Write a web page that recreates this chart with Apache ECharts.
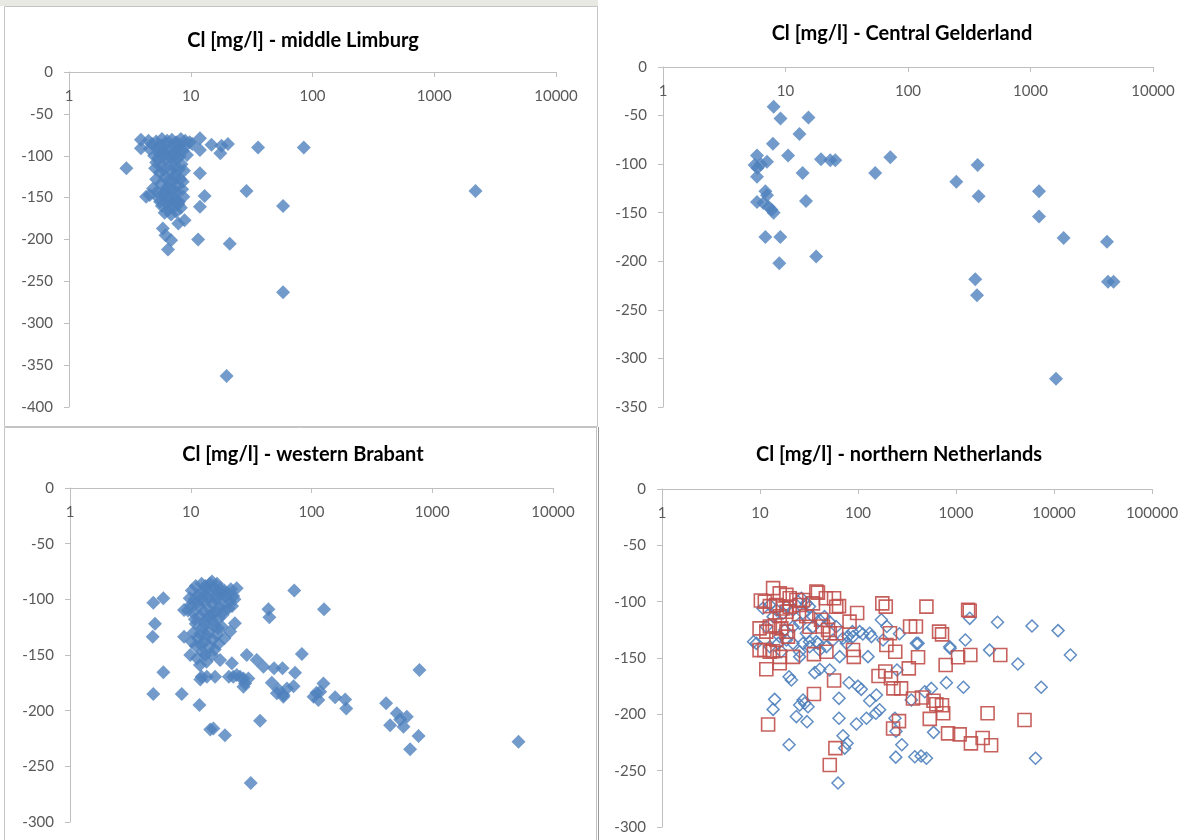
<!DOCTYPE html>
<html>
<head>
<meta charset="utf-8">
<script src="https://cdn.jsdelivr.net/npm/echarts@6/dist/echarts.min.js"></script>
<style>
  html, body { margin: 0; padding: 0; background: #fff; }
  #chart { width: 1186px; height: 840px; }
</style>
</head>
<body>
<div id="chart"></div>
<script>
// panel titles
const titles = [
  'Cl [mg/l] - middle Limburg',
  'Cl [mg/l] - Central Gelderland',
  'Cl [mg/l] - western Brabant',
  'Cl [mg/l] - northern Netherlands'
];

// axis ranges per panel
const xMax = [10000, 10000, 10000, 100000];
const yMin = [-400, -350, -300, -300];

// [Cl mg/l, depth]
const limburg = [
  [2.96, -115], [3.9, -81], [4.5, -82], [5.2, -83], [5.8, -80], [6.4, -82], [7.0, -81], [7.6, -84],
  [8.3, -80], [9.0, -82], [9.8, -84], [10.3, -86], [3.9, -91], [4.6, -92], [5.3, -90],
  [11.9, -79], [11.9, -93], [14.8, -87], [17.9, -88], [17.5, -97], [20.2, -86], [35.7, -90],
  [84.8, -90], [2183, -142],
  [5.0, -100], [5.5, -97], [6.0, -95], [6.6, -93], [7.2, -96], [7.9, -92], [8.6, -94], [9.3, -99],
  [5.2, -108], [5.8, -112], [6.3, -105], [7.0, -109], [7.7, -103], [8.4, -110],
  [5.6, -120], [6.2, -125], [6.8, -118], [7.5, -122], [8.2, -128], [8.8, -118],
  [5.7, -133], [6.4, -138], [7.1, -131], [7.8, -136], [8.5, -140],
  [5.4, -150], [6.0, -145], [6.7, -152], [7.3, -147], [8.0, -155], [8.7, -149],
  [5.8, -160], [6.5, -165], [7.2, -162], [7.9, -158], [6.1, -168], [6.9, -170], [7.6, -167],
  [4.8, -86], [5.6, -88], [6.3, -87], [7.3, -88], [8.0, -87], [8.9, -89], [5.4, -103], [6.1, -100],
  [6.9, -102], [7.5, -99], [8.1, -101], [5.1, -115], [6.0, -117], [7.3, -114], [8.0, -116],
  [6.5, -130], [7.4, -126], [8.6, -131], [5.2, -128], [6.2, -142], [7.0, -140], [7.6, -143],
  [5.6, -155], [6.3, -157], [7.0, -157], [7.5, -153], [6.3, -150], [8.3, -162],
  [4.3, -149], [4.9, -139], [4.6, -147], [5.3, -143],
  [11.9, -121], [13, -148], [11.9, -161], [28.7, -142], [57.3, -160], [57.3, -263], [19.7, -363],
  [20.9, -205], [11.5, -200], [6.5, -212], [5.9, -187], [6.9, -201], [6.2, -195], [7.9, -181], [8.9, -177]
];

const gelderland = [
  [8.0, -41], [9.1, -53], [15.4, -52], [13, -69], [7.9, -79], [10.5, -91], [5.85, -91],
  [5.6, -101], [5.9, -104], [6.3, -100], [7.06, -97.5], [5.85, -113], [6.85, -128], [7.06, -132],
  [5.85, -139], [6.6, -140], [7.3, -144], [7.7, -147], [8.0, -150], [6.85, -175], [9.07, -175],
  [8.9, -202], [17.8, -195], [13.8, -109], [14.7, -138], [19.5, -95], [23.2, -96], [25.5, -96],
  [54, -109], [71.7, -93], [248, -118], [370, -101], [377, -133], [354, -218.5], [366, -235],
  [1173, -128], [1173, -154], [1864, -176], [4210, -180], [4293, -221], [4766, -221], [1615, -321]
];

const brabant = [
  [4.9, -103], [5.93, -99], [5.06, -122], [4.84, -133.5], [5.93, -165.5], [4.9, -185], [8.42, -185],
  [11.8, -195], [14.5, -217], [15.4, -216], [19.2, -222], [31.4, -265], [37.5, -209], [72, -92],
  [44, -109], [44.8, -116], [83.2, -149], [73.1, -166], [71, -178], [57.5, -162], [49, -162],
  [40, -160.5], [46.9, -175], [53.2, -181], [58.6, -186], [29.1, -150], [35.2, -154.5],
  [21.9, -157.5], [22.5, -169.5], [25.6, -169.5], [28.2, -175.5], [20.7, -169.5], [13.6, -169.5],
  [15.9, -169.5], [127, -109], [125.6, -175.5], [104, -187.5], [114, -190.4], [118, -183], [110, -184],
  [157, -188], [190, -190], [194, -198], [415, -193.4], [509, -202.4], [616, -205.4], [448, -213],
  [578, -214.4], [542, -208], [783, -163.5], [770, -222.8], [656, -234.7], [5180, -228],
  [8.8, -133.6], [8.8, -109.6], [12.3, -169.5], [24, -168], [27.3, -171], [30, -171],
  [27.3, -178.5], [62.6, -180], [51.6, -184.4], [58.5, -187.5], [12, -172],
  [10, -105], [10.8, -100], [11.5, -96], [12.5, -94], [13.5, -91], [14.4, -86], [15.5, -89],
  [16.8, -92], [18, -95], [19.5, -98], [21, -102], [22.5, -97], [24, -90], [23, -100],
  [9.5, -110], [10.5, -112], [11.8, -106], [13, -103], [14, -99], [15, -104], [16, -100],
  [17.5, -107], [19, -110], [20.5, -108], [12, -115], [13.5, -118], [15.5, -113], [17, -117], [14.5, -110],
  [11, -122], [12.5, -126], [14, -129], [15.5, -124], [18.1, -124.6], [23.2, -121.5], [21.2, -129],
  [16.5, -132], [11.5, -135], [13, -138], [14.4, -142.5], [17, -140], [19, -135], [9.9, -150],
  [11.9, -159], [17.5, -154.5], [12.5, -147], [15, -150], [13.5, -156], [11, -142], [10.5, -130],
  [10.2, -92], [11, -88], [12.3, -86], [13.2, -88], [15, -84], [16.5, -86], [17.5, -90], [19, -92],
  [20.5, -95], [21.5, -91], [22, -106], [17.8, -101], [16, -96], [13.8, -95], [12.2, -100], [11, -104],
  [9.8, -99], [10.8, -118], [12.8, -111], [14.2, -115], [16.3, -110], [18.3, -114], [15, -119],
  [13, -122], [16.8, -126], [12, -131], [13.6, -133], [15.2, -136], [10.2, -138], [12.2, -141],
  [15.8, -145], [13.2, -150], [11.3, -153]
];

// northern Netherlands, two sample groups
const northBlue = [
  [8.6, -135.5], [14.1, -186.7], [13.6, -195.6], [19.8, -227], [19.8, -166.6], [20.9, -169.5],
  [23.5, -202], [25.4, -191.7], [27.5, -187.3], [28.6, -190.2], [30.9, -193.2], [30.2, -206.5],
  [25.4, -148.8], [32.1, -140], [36.2, -163], [40.7, -160], [39.1, -137], [51.4, -160.7],
  [64, -185.8], [64, -203.5], [70.3, -219], [77.3, -225.7], [73.2, -230], [62.5, -261], [81, -172],
  [96.4, -208.6], [100, -175], [108, -177.8], [122, -203.5], [152, -199], [131.6, -188],
  [112, -128.7], [131.6, -128], [137, -131], [87.7, -126.6], [70.3, -132.5], [79, -131],
  [126.5, -148.8], [173, -116], [180, -134], [197, -122], [154, -182.8], [244, -215],
  [243, -238], [238, -203.5], [265, -128.5], [250, -160.7],
  [10.7, -105.9], [12.6, -103], [14.7, -107.4], [13.6, -113.3], [17.2, -110.3], [18.6, -104.4],
  [21.7, -107.4], [24.4, -99.9], [26.4, -97], [29.7, -101.5], [32, -104.4], [27.5, -110.3],
  [34.7, -113.3], [25.4, -119.2], [21.7, -122.2], [17.9, -125.2], [15.9, -131], [18.6, -134],
  [21.7, -137], [27.5, -137], [29.7, -128.1], [34.7, -122.2], [40.6, -116.3], [45.5, -113.3],
  [51, -117.7], [60, -122.2], [55.6, -134], [47.6, -139.9], [40.6, -142.9], [65, -148.8],
  [76.2, -137], [89, -131], [16.5, -144.3], [15.3, -137], [11.6, -122.2], [9.2, -137], [12.6, -140],
  [32, -135.5], [37.6, -135.5], [25.4, -144.4], [104, -126.6],
  [1380, -114.8], [2650, -118.3], [5960, -121.6], [11000, -125.7], [14700, -147.3], [4280, -155.3],
  [7400, -176], [6480, -239], [2200, -143], [1245, -134], [872, -141.4], [410, -137], [798, -171.9],
  [1190, -176], [560, -177], [480, -180], [350, -187.3], [280, -227], [590, -216], [380, -237.6],
  [440, -237], [499, -239], [166, -196], [394, -137], [863, -140]
];

const northRed = [
  [13.6, -88], [10.2, -99], [11.2, -100], [15.9, -92.6], [18.6, -94], [20.1, -97], [12.6, -104],
  [14.7, -103], [17.2, -106], [18.6, -109], [23.5, -98.5], [27.5, -98.5], [39, -92], [34.7, -101.5],
  [47, -97], [57, -97], [64, -104], [98, -110], [42, -116], [29.7, -113], [25, -111], [15.9, -113],
  [14.2, -121], [12.6, -122], [9.9, -123.7], [11.6, -126.6], [11.1, -142.9], [13.6, -144],
  [15.9, -149], [15.9, -154.7], [11.6, -160], [21.7, -149], [35.5, -146.6], [47.6, -144.5],
  [51.5, -128], [43.8, -122], [82, -117.7], [89, -142.9], [90.6, -149], [57, -170], [35.5, -182],
  [12.1, -209], [58.8, -230], [51.5, -245], [16.5, -123.7], [18.6, -126.6], [25.4, -103],
  [20.1, -104.4], [19.3, -131], [14.7, -134], [9.9, -143], [12.6, -144.4], [32, -122.2],
  [37.6, -91], [60, -104.5], [49.5, -125], [60, -128],
  [177, -101.5], [192, -104.4], [212, -128], [240, -144.5], [162, -166], [190, -162], [217, -168],
  [230, -177], [275, -177], [262, -206], [228, -212.6],
  [499, -104.4], [1330, -107.3], [1380, -108], [340, -122], [390, -122], [672, -126.6], [720, -129],
  [195, -138.4], [410, -149.4], [1050, -149.4], [1400, -147.3], [2830, -147.3], [330, -159.2],
  [784, -156.2], [364, -186], [450, -185], [590, -188], [630, -191], [720, -192], [540, -204],
  [740, -199], [2100, -199], [5000, -205], [830, -216.9], [1090, -217.8], [1420, -225.8],
  [1870, -221], [2280, -227.5]
];

const chart = echarts.init(document.getElementById('chart'), null, { renderer: 'canvas' });

const FONT = 'Lato';
const AXIS_GREY = '#bfbfbf';
const BLUE = '#4f81bd';
const RED = '#c0504d';

const grids = [
  { left: 69, top: 72, width: 487, height: 335 },
  { left: 663, top: 67, width: 490, height: 340 },
  { left: 70, top: 488, width: 483, height: 334 },
  { left: 662, top: 489, width: 490, height: 338 }
];
const titlePos = [[298, 26], [897, 19], [298, 440], [894, 440]];

var option = {
  animation: false,
  backgroundColor: '#fff',
  title: titles.map((t, i) => ({
    text: t,
    left: titlePos[i][0],
    top: titlePos[i][1],
    textAlign: 'center',
    textStyle: { fontFamily: FONT, fontSize: 20, fontWeight: 'bold', color: '#000' }
  })),
  grid: grids.map(g => Object.assign({ outerBoundsMode: 'none', containLabel: false }, g)),
  xAxis: grids.map((g, i) => ({
    type: 'log',
    logBase: 10,
    gridIndex: i,
    min: 1,
    max: xMax[i],
    position: 'top',
    axisLine: { show: true, lineStyle: { color: AXIS_GREY, width: 1 } },
    axisTick: { show: true, inside: true, length: 5, lineStyle: { color: AXIS_GREY } },
    axisLabel: {
      inside: true,
      margin: 17,
      color: '#595959',
      fontFamily: FONT,
      fontSize: 15,
      formatter: v => String(Math.round(v))
    },
    splitLine: { show: false },
    minorTick: { show: false }
  })),
  yAxis: grids.map((g, i) => ({
    type: 'value',
    gridIndex: i,
    min: yMin[i],
    max: 0,
    interval: 50,
    axisLine: { show: true, onZero: false, lineStyle: { color: AXIS_GREY, width: 1 } },
    axisTick: { show: true, length: 5, lineStyle: { color: AXIS_GREY } },
    axisLabel: { margin: 16, color: '#595959', fontFamily: FONT, fontSize: 15 },
    splitLine: { show: false }
  })),
  series: [
    { type: 'scatter', xAxisIndex: 0, yAxisIndex: 0, data: limburg, symbol: 'diamond', symbolSize: 14,
      itemStyle: { color: BLUE } },
    { type: 'scatter', xAxisIndex: 1, yAxisIndex: 1, data: gelderland, symbol: 'diamond', symbolSize: 14,
      itemStyle: { color: BLUE } },
    { type: 'scatter', xAxisIndex: 2, yAxisIndex: 2, data: brabant, symbol: 'diamond', symbolSize: 14,
      itemStyle: { color: BLUE } },
    { type: 'scatter', xAxisIndex: 3, yAxisIndex: 3, data: northBlue, symbol: 'diamond', symbolSize: 12,
      itemStyle: { color: 'rgba(0,0,0,0)', borderColor: BLUE, borderWidth: 1.5, opacity: 0.9 } },
    { type: 'scatter', xAxisIndex: 3, yAxisIndex: 3, data: northRed, symbol: 'rect', symbolSize: 13,
      itemStyle: { color: 'rgba(0,0,0,0)', borderColor: RED, borderWidth: 1.6, opacity: 0.9 } }
  ],
  graphic: [
    // worksheet frames around the left-hand charts
    { type: 'rect', shape: { x: 0, y: 0, width: 598, height: 6 }, style: { fill: '#e9e9e4' }, silent: true },
    { type: 'rect', shape: { x: 4.5, y: 6.5, width: 593, height: 420 },
      style: { fill: 'none', stroke: '#c4c4c4', lineWidth: 1 }, silent: true },
    { type: 'rect', shape: { x: 4.5, y: 427.5, width: 592, height: 420 },
      style: { fill: 'none', stroke: '#c4c4c4', lineWidth: 1 }, silent: true },
    { type: 'line', shape: { x1: 598.5, y1: 427, x2: 598.5, y2: 840 },
      style: { stroke: '#9a9a9a', lineWidth: 1 }, silent: true }
  ]
};

chart.setOption(option);
</script>
</body>
</html>
